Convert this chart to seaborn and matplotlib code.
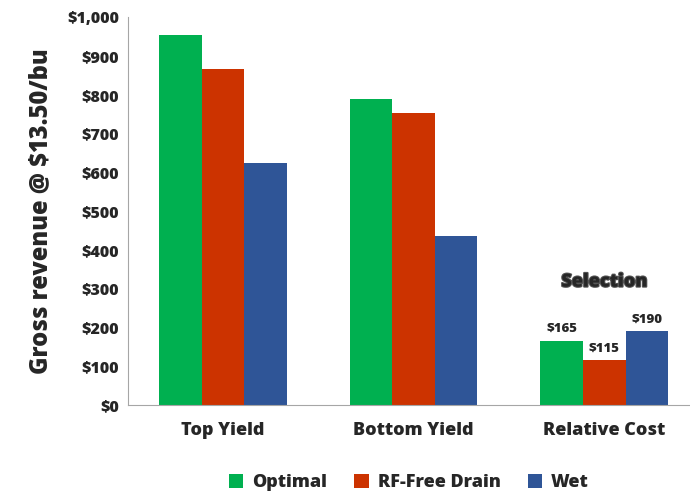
import pandas as pd
import matplotlib.pyplot as plt
import matplotlib.patheffects as pe
import seaborn as sns

categories = ["Top Yield", "Bottom Yield", "Relative Cost"]
series = ["Optimal", "RF-Free Drain", "Wet"]
optimal = [955, 790, 165]
rf_free = [867, 752, 115]
wet = [625, 435, 190]
colors = ["#00B050", "#CC3300", "#2F5597"]

df = pd.DataFrame({
    "category": categories * 3,
    "series": [series[0]] * 3 + [series[1]] * 3 + [series[2]] * 3,
    "value": optimal + rf_free + wet,
})

sns.set_style("white")
plt.rcParams["font.family"] = ["Open Sans", "DejaVu Sans"]
plt.rcParams["font.weight"] = "bold"

fig, ax = plt.subplots(figsize=(6.9, 4.91), dpi=100)
sns.barplot(data=df, x="category", y="value", hue="series", palette=colors,
            width=0.67, saturation=1, linewidth=0, gap=0, ax=ax)

ax.set_ylim(0, 1000)
ax.set_yticks(range(0, 1001, 100))
ax.set_yticklabels([f"${v:,}" for v in range(0, 1001, 100)], fontsize=11.5, fontweight="heavy")
ax.set_xticklabels(categories, fontsize=13, fontweight="heavy")
ax.tick_params(axis="x", length=0, pad=12)
ax.tick_params(axis="y", length=0, pad=6)
ax.set_xlabel("")
ax.set_ylabel("Gross revenue @ $13.50/bu", fontsize=17, fontweight="heavy", labelpad=10)
ax.set_xlim(-0.5, 2.45)
for s in ["top", "right"]:
    ax.spines[s].set_visible(False)
for s in ["left", "bottom"]:
    ax.spines[s].set_color("#A6A6A6")

# value labels on the cost group
for cont, vals in zip(ax.containers, [optimal, rf_free, wet]):
    bar = cont.patches[2]
    ax.text(bar.get_x() + bar.get_width() / 2, vals[2] + 15, f"${vals[2]}",
            ha="center", va="bottom", fontsize=9.5, fontweight="heavy")
ax.text(2, 295, "Selection", ha="center", va="bottom", fontsize=13, fontweight="heavy",
        path_effects=[pe.withStroke(linewidth=1.5, foreground="#555555")])

leg = ax.legend(loc="upper center", bbox_to_anchor=(0.5, -0.135), ncol=3, frameon=False,
                prop={"size": 13, "weight": "heavy"}, handlelength=0.8, handleheight=0.8,
                columnspacing=1.5, handletextpad=0.5)

fig.subplots_adjust(left=0.185, right=1.0, top=0.965, bottom=0.175)
fig.savefig("out.png", dpi=100)
